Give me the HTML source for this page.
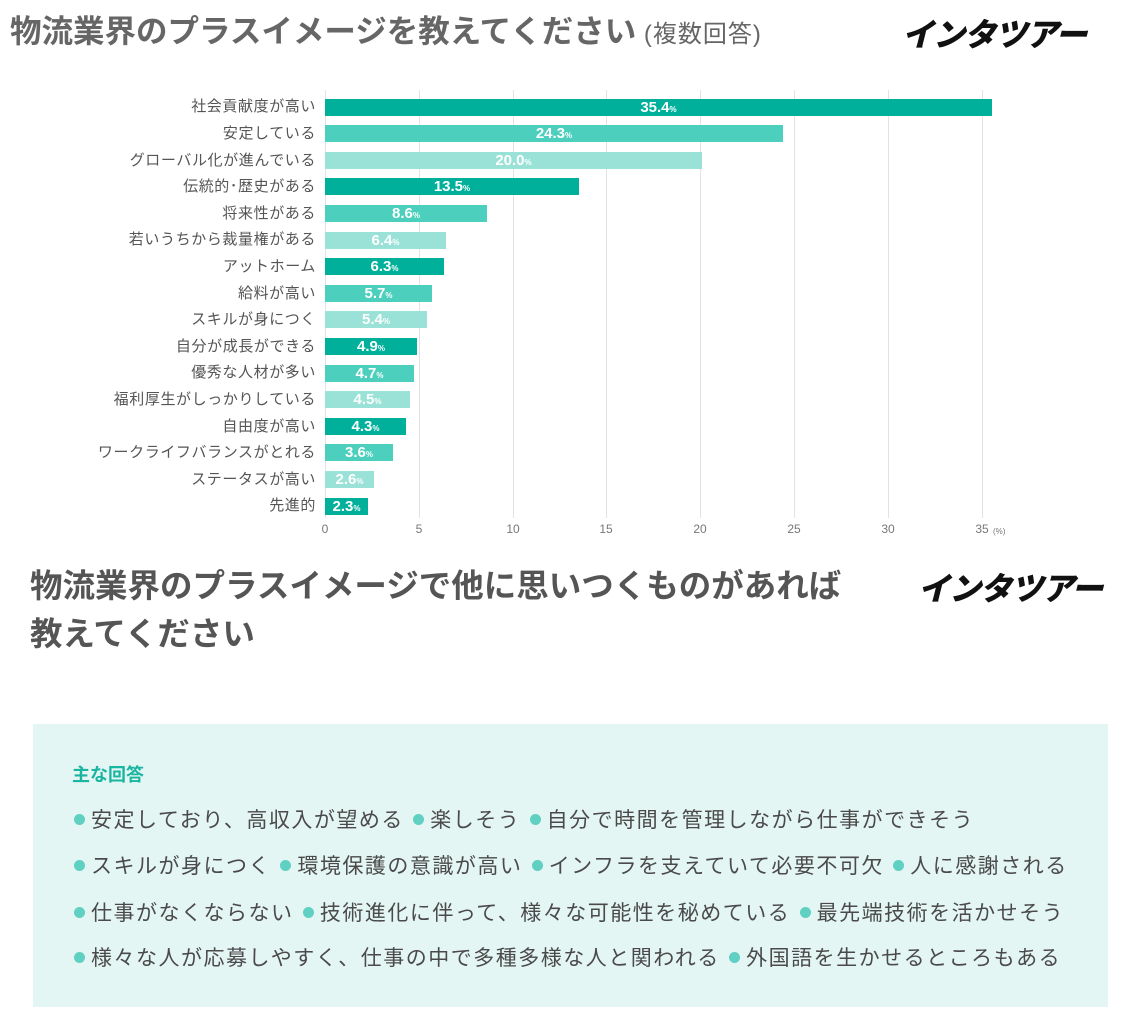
<!DOCTYPE html>
<html><head><meta charset="utf-8"><style>
body{margin:0;width:1141px;height:1024px;background:#fff;position:relative;overflow:hidden;font-family:"Liberation Sans","Noto Sans CJK JP",sans-serif}
.a{position:absolute;white-space:nowrap}
.g{position:absolute;top:90px;height:428px;width:1px;background:#e2e2e2}
.t{position:absolute;top:522px;font-size:12px;color:#777;width:30px;margin-left:-15px;text-align:center}
.l{position:absolute;right:825px;font-size:15px;letter-spacing:0.6px;color:#555;line-height:17px}
.b{position:absolute;left:325px;height:17px;color:#fff;font-weight:bold;font-size:15px;line-height:17px;text-align:center}
.b small{font-size:8px}
.d{background:#00b09b}.m{background:#4ccfbc}.li{background:#9ae2d7}
.logo{position:absolute;font-weight:900;font-style:italic;color:#111;letter-spacing:-1px}
.it{position:absolute;left:72px;font-size:21px;letter-spacing:1.5px;color:#4a4a4a}
.it i{display:inline-block;width:11px;height:11px;border-radius:50%;background:#5fd0c2;margin:0 6px 3px 2px;vertical-align:middle}
</style></head><body>
<div class="a" style="left:10px;top:6px;font-size:31.5px;font-weight:bold;color:#666">物流業界のプラスイメージを教えてください<span style="font-size:24px;font-weight:normal;letter-spacing:1px"> (複数回答)</span></div>
<div class="logo" style="left:902px;top:10px;font-size:32px">インタツアー</div>

<div class="g" style="left:325px"></div><div class="g" style="left:419px"></div><div class="g" style="left:513px"></div><div class="g" style="left:606px"></div><div class="g" style="left:700px"></div><div class="g" style="left:794px"></div><div class="g" style="left:888px"></div><div class="g" style="left:982px"></div>
<div class="t" style="left:325px">0</div><div class="t" style="left:419px">5</div><div class="t" style="left:513px">10</div><div class="t" style="left:606px">15</div><div class="t" style="left:700px">20</div><div class="t" style="left:794px">25</div><div class="t" style="left:888px">30</div><div class="t" style="left:982px">35</div>
<div class="a" style="left:993px;top:527px;font-size:8px;color:#777">(%)</div>

<div class="l" style="top:98px">社会貢献度が高い</div>
<div class="l" style="top:125px">安定している</div>
<div class="l" style="top:152px">グローバル化が進んでいる</div>
<div class="l" style="top:178px">伝統的･歴史がある</div>
<div class="l" style="top:205px">将来性がある</div>
<div class="l" style="top:231px">若いうちから裁量権がある</div>
<div class="l" style="top:258px">アットホーム</div>
<div class="l" style="top:285px">給料が高い</div>
<div class="l" style="top:311px">スキルが身につく</div>
<div class="l" style="top:338px">自分が成長ができる</div>
<div class="l" style="top:364px">優秀な人材が多い</div>
<div class="l" style="top:391px">福利厚生がしっかりしている</div>
<div class="l" style="top:418px">自由度が高い</div>
<div class="l" style="top:444px">ワークライフバランスがとれる</div>
<div class="l" style="top:471px">ステータスが高い</div>
<div class="l" style="top:497px">先進的</div>

<div class="b d" style="top:98.5px;width:667px">35.4<small>%</small></div>
<div class="b m" style="top:125px;width:458px">24.3<small>%</small></div>
<div class="b li" style="top:151.7px;width:377px">20.0<small>%</small></div>
<div class="b d" style="top:178.3px;width:254px">13.5<small>%</small></div>
<div class="b m" style="top:204.9px;width:162px">8.6<small>%</small></div>
<div class="b li" style="top:231.5px;width:121px">6.4<small>%</small></div>
<div class="b d" style="top:258.1px;width:119px">6.3<small>%</small></div>
<div class="b m" style="top:284.7px;width:107px">5.7<small>%</small></div>
<div class="b li" style="top:311.3px;width:102px">5.4<small>%</small></div>
<div class="b d" style="top:337.9px;width:92px">4.9<small>%</small></div>
<div class="b m" style="top:364.5px;width:89px">4.7<small>%</small></div>
<div class="b li" style="top:391.1px;width:85px">4.5<small>%</small></div>
<div class="b d" style="top:417.7px;width:81px">4.3<small>%</small></div>
<div class="b m" style="top:444.3px;width:68px">3.6<small>%</small></div>
<div class="b li" style="top:470.9px;width:49px">2.6<small>%</small></div>
<div class="b d" style="top:497.5px;width:43px">2.3<small>%</small></div>

<div class="a" style="left:30px;top:562px;font-size:32.5px;font-weight:bold;color:#555;line-height:48px">物流業界のプラスイメージで他に思いつくものがあれば<br>教えてください</div>
<div class="logo" style="left:918px;top:564px;font-size:32px">インタツアー</div>

<div class="a" style="left:33px;top:724px;width:1075px;height:283px;background:#e4f6f3"></div>
<div class="a" style="left:72px;top:761px;font-size:18px;font-weight:bold;color:#19b5a0">主な回答</div>
<div class="it" style="top:804px"><i></i>安定しており、高収入が望める <i></i>楽しそう <i></i>自分で時間を管理しながら仕事ができそう</div>
<div class="it" style="top:850px"><i></i>スキルが身につく <i></i>環境保護の意識が高い <i></i>インフラを支えていて必要不可欠 <i></i>人に感謝される</div>
<div class="it" style="top:897px"><i></i>仕事がなくならない <i></i>技術進化に伴って、様々な可能性を秘めている <i></i>最先端技術を活かせそう</div>
<div class="it" style="top:942px"><i></i>様々な人が応募しやすく、仕事の中で多種多様な人と関われる <i></i>外国語を生かせるところもある</div>
</body></html>
